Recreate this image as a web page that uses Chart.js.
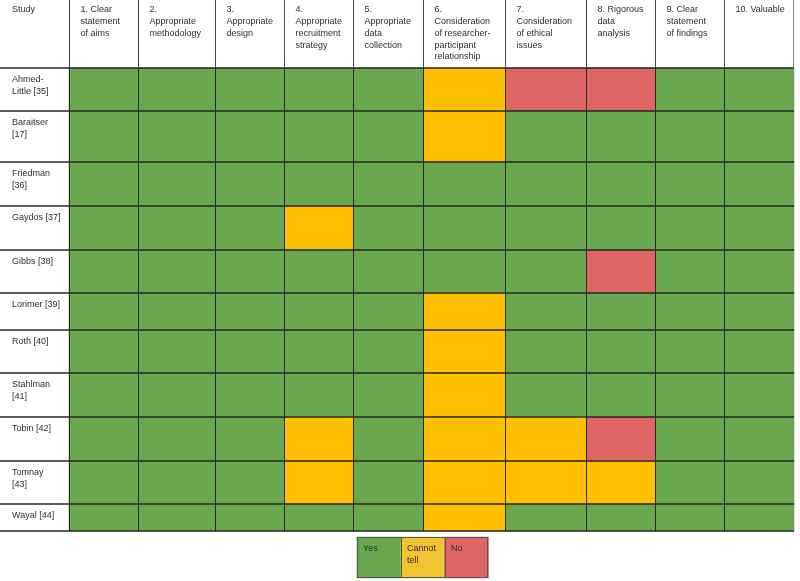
<!DOCTYPE html>
<html>
<head>
<meta charset="utf-8">
<script src="https://cdn.jsdelivr.net/npm/chart.js@4"></script>
<style>
  html, body { margin: 0; padding: 0; background: #ffffff; }
  #wrap { width: 800px; height: 581px; position: relative; }
</style>
</head>
<body>
<div id="wrap"><canvas id="c" width="800" height="581"></canvas></div>
<script>
// ---------------- DATA ----------------
const studies = [
  ['Ahmed-', 'Little [35]'],
  ['Baraitser', '[17]'],
  ['Friedman', '[36]'],
  ['Gaydos [37]'],
  ['Gibbs [38]'],
  ['Lorimer [39]'],
  ['Roth [40]'],
  ['Stahlman', '[41]'],
  ['Tobin [42]'],
  ['Tomnay', '[43]'],
  ['Wayal [44]']
];
const studyHeader = ['Study'];
const criteria = [
  ['1. Clear', 'statement', 'of aims'],
  ['2.', 'Appropriate', 'methodology'],
  ['3.', 'Appropriate', 'design'],
  ['4.', 'Appropriate', 'recruitment', 'strategy'],
  ['5.', 'Appropriate', 'data', 'collection'],
  ['6.', 'Consideration', 'of researcher-', 'participant', 'relationship'],
  ['7.', 'Consideration', 'of ethical', 'issues'],
  ['8. Rigorous', 'data', 'analysis'],
  ['9. Clear', 'statement', 'of findings'],
  ['10. Valuable']
];
const ratingLabels = [['Yes'], ['Cannot', 'tell'], ['No']];
// 0 = Yes, 1 = Cannot tell, 2 = No ; one row per study, one entry per criterion
const ratings = [
  [0, 0, 0, 0, 0, 1, 2, 2, 0, 0],
  [0, 0, 0, 0, 0, 1, 0, 0, 0, 0],
  [0, 0, 0, 0, 0, 0, 0, 0, 0, 0],
  [0, 0, 0, 1, 0, 0, 0, 0, 0, 0],
  [0, 0, 0, 0, 0, 0, 0, 2, 0, 0],
  [0, 0, 0, 0, 0, 1, 0, 0, 0, 0],
  [0, 0, 0, 0, 0, 1, 0, 0, 0, 0],
  [0, 0, 0, 0, 0, 1, 0, 0, 0, 0],
  [0, 0, 0, 1, 0, 1, 1, 2, 0, 0],
  [0, 0, 0, 1, 0, 1, 1, 1, 0, 0],
  [0, 0, 0, 0, 0, 1, 0, 0, 0, 0]
];

// ---------------- LAYOUT / STYLE ----------------
const colEdges = [0, 69, 138, 215, 284, 353, 423, 505, 586, 655, 724, 794];
const rowEdges = [0, 68, 111, 162, 206, 250, 293, 330, 373, 417, 461, 504, 531];
const legendCols = [357, 401, 445, 488];
const legendRows = [537, 578];
const cellColors = ['#6aa84f', '#ffc000', '#e06666'];
const legendColors = ['#6aa84f', '#f1c232', '#e06666'];
const FONT = '9px "Liberation Sans", Arial, sans-serif';
const TEXT = '#2e2e2e';
const LINE_H = 11.7;

// datasets: one per criterion column (constant width per dataset)
const datasets = criteria.map((c, j) => ({
  label: c.join(' '),
  data: studies.map((s, i) => ({
    x: (colEdges[j + 1] + colEdges[j + 2]) / 2,
    y: [rowEdges[i + 1], rowEdges[i + 2]]
  })),
  backgroundColor: studies.map((s, i) => cellColors[ratings[i][j]]),
  borderWidth: 0,
  barThickness: colEdges[j + 2] - colEdges[j + 1],
  grouped: false
}));
// legend swatches
datasets.push({
  label: 'legend',
  data: ratingLabels.map((l, k) => ({
    x: (legendCols[k] + legendCols[k + 1]) / 2,
    y: [legendRows[0], legendRows[1]]
  })),
  backgroundColor: legendColors,
  borderWidth: 0,
  barThickness: legendCols[1] - legendCols[0],
  grouped: false
});

const tablePlugin = {
  id: 'tablePlugin',
  afterDatasetsDraw(chart) {
    const ctx = chart.ctx;
    const xs = chart.scales.x, ys = chart.scales.y;
    const px = v => xs.getPixelForValue(v);
    const py = v => ys.getPixelForValue(v);
    ctx.save();
    // vertical lines
    ctx.lineWidth = 1;
    for (let j = 1; j < colEdges.length - 1; j++) {
      const x = Math.round(px(colEdges[j])) + 0.5;
      ctx.strokeStyle = '#4a4a4a';
      ctx.beginPath();
      ctx.moveTo(x, py(rowEdges[0]));
      ctx.lineTo(x, py(rowEdges[1]));
      ctx.stroke();
      ctx.strokeStyle = '#2a2a2a';
      ctx.beginPath();
      ctx.moveTo(x, py(rowEdges[1]));
      ctx.lineTo(x, py(rowEdges[rowEdges.length - 1]));
      ctx.stroke();
    }
    // right edge
    ctx.strokeStyle = '#8a8a8a';
    ctx.beginPath();
    const xr = Math.round(px(colEdges[colEdges.length - 1])) - 0.5;
    ctx.moveTo(xr, py(rowEdges[0]));
    ctx.lineTo(xr, py(rowEdges[rowEdges.length - 1]));
    ctx.stroke();
    // horizontal lines
    ctx.strokeStyle = '#262626';
    ctx.lineWidth = 1.4;
    for (let i = 1; i < rowEdges.length; i++) {
      const y = py(rowEdges[i]);
      ctx.beginPath();
      ctx.moveTo(px(colEdges[0]), y);
      ctx.lineTo(px(colEdges[colEdges.length - 1]), y);
      ctx.stroke();
    }
    // legend borders
    ctx.strokeStyle = '#555555';
    ctx.lineWidth = 1;
    ctx.strokeRect(Math.round(px(legendCols[0])) + 0.5, Math.round(py(legendRows[0])) + 0.5,
      Math.round(px(legendCols[3]) - px(legendCols[0])) - 1, Math.round(py(legendRows[1]) - py(legendRows[0])) - 1);
    for (let k = 1; k < legendCols.length - 1; k++) {
      const x = Math.round(px(legendCols[k])) + 0.5;
      ctx.beginPath();
      ctx.moveTo(x, py(legendRows[0]));
      ctx.lineTo(x, py(legendRows[1]));
      ctx.stroke();
    }
    // texts
    ctx.font = FONT;
    ctx.fillStyle = TEXT;
    ctx.textAlign = 'left';
    ctx.textBaseline = 'middle';
    const drawLines = (lines, x, yTop) => {
      lines.forEach((t, k) => ctx.fillText(t, x, yTop + 10 + k * LINE_H));
    };
    drawLines(studyHeader, px(colEdges[0]) + 12, py(rowEdges[0]));
    criteria.forEach((c, j) => drawLines(c, px(colEdges[j + 1]) + 11.5, py(rowEdges[0])));
    studies.forEach((s, i) => drawLines(s, px(colEdges[0]) + 12, py(rowEdges[i + 1]) + 2));
    ratingLabels.forEach((l, k) => drawLines(l, px(legendCols[k]) + 6, py(legendRows[0]) + 2));
    ctx.restore();
  }
};

new Chart(document.getElementById('c'), {
  type: 'bar',
  data: { datasets },
  options: {
    responsive: false,
    animation: false,
    layout: { padding: 0 },
    plugins: { legend: { display: false }, tooltip: { enabled: false } },
    scales: {
      x: { type: 'linear', min: 0, max: 800, offset: false, display: false },
      y: { type: 'linear', min: 0, max: 581, reverse: true, offset: false, display: false }
    }
  },
  plugins: [tablePlugin]
});
</script>
</body>
</html>
